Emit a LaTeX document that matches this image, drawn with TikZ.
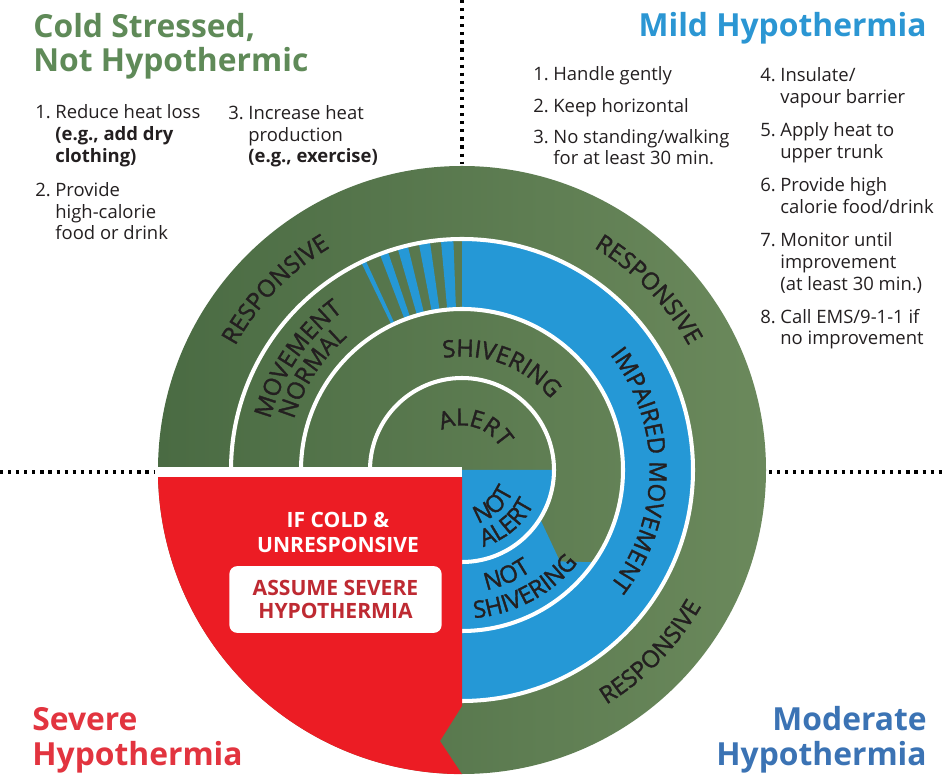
\documentclass[tikz,border=0pt]{standalone}
\usepackage{fontspec}
\setmainfont{Open Sans}
\newfontfamily\ringface[FakeBold=1.5]{Open Sans}
\usetikzlibrary{decorations.text}

\definecolor{leaf}{HTML}{6B895C}
\definecolor{leafdark}{HTML}{4A6B43}
\definecolor{ice}{HTML}{2598D6}
\definecolor{alarm}{HTML}{EC1C24}
\definecolor{ink}{HTML}{231F20}
\definecolor{ttlgreen}{HTML}{5F8A58}
\definecolor{ttlblue}{HTML}{2B96D3}
\definecolor{ttlred}{HTML}{E2343F}
\definecolor{ttlnavy}{HTML}{3B73B4}
\definecolor{boxred}{HTML}{BE2A32}

\newcommand\lnum[1]{\makebox[11.4pt][l]{#1.}}
\newcommand\lind{\hspace*{11.4pt}}
\newcommand\ringfont{\ringface\fontsize{13.5}{13.5}\selectfont}

\begin{document}
\begin{tikzpicture}[x=0.02cm,y=0.02cm,
  title/.style={font=\fontsize{18.1}{19.8}\selectfont\bfseries, inner sep=0pt},
  steps/.style={font=\fontsize{10.5}{12.5}\selectfont, text=ink, align=left, inner sep=0pt, anchor=base west},
  divider/.style={line width=1.8pt, dash pattern=on 1.8pt off 2.8pt},
  ring/.style={white, line width=2.3pt},
  curved/.style={decorate, decoration={text along path, text align=center, text={|\ringfont\color{ink}|#1}}}]
\useasboundingbox (-462,-306) rectangle (480,470);

% rings, all green first
\shade[left color=leafdark, middle color=leaf, right color=leaf] (0,0) circle[radius=304];

\fill[ice] (90:231) arc[start angle=90, end angle=-90, radius=231] -- (-90:161) arc[start angle=-90, end angle=90, radius=161] -- cycle;
\foreach \a/\w in {115.3/1.2, 109.8/2.1, 104.9/2.6, 99.4/2.8, 93.7/3.1}
  \fill[ice] ({\a+\w/2}:231) arc[start angle=\a+\w/2, end angle=\a-\w/2, radius=231] -- ({\a-\w/2}:161) arc[start angle=\a-\w/2, end angle=\a+\w/2, radius=161] -- cycle;

\fill[ice] (0,0) -- (0:92) arc[start angle=0, end angle=-32, radius=92] -- (-43:134) -- (-35:161) arc[start angle=-35, end angle=-90, radius=161] -- cycle;

\foreach \r in {92,161,231}
  \draw[ring] (-90:\r) arc[start angle=-90, end angle=180, radius=\r];

% red quarter with the notch at the bottom
\fill[alarm] (0,-7) -- (-304,-7) arc[start angle=181.3, end angle=270, radius=304] -- (-22,-271) -- (0,-236) -- cycle;
\fill[white] (-310,3) rectangle (0,-7);

\draw[divider] (0,470) -- (0,306);
\draw[divider] (-462,-2) -- (-308,-2);
\draw[divider] (307,-2) -- (480,-2);

\path[curved=RESPONSIVE] (176:258.5) arc[start angle=176, end angle=96, radius=258.5];
\path[curved=RESPONSIVE] (84:258.5) arc[start angle=84, end angle=4, radius=258.5];
\path[curved=RESPONSIVE] (-84:275.5) arc[start angle=-84, end angle=-4, radius=275.5];
\path[curved=MOVEMENT] (186:198.5) arc[start angle=186, end angle=106, radius=198.5];
\path[curved=NORMAL] (187:175.5) arc[start angle=187, end angle=107, radius=175.5];
\path[curved={IMPAIRED MOVEMENT}] (80:187.5) arc[start angle=80, end angle=-80, radius=187.5];
\path[curved=SHIVERING] (119:113.5) arc[start angle=119, end angle=19, radius=113.5];
\path[curved=ALERT] (163:44.5) arc[start angle=163, end angle=-17, radius=44.5];
\path[curved=NOT] (-138:55.5) arc[start angle=-138, end angle=42, radius=55.5];
\path[curved=ALERT] (-140:79.5) arc[start angle=-140, end angle=40, radius=79.5];
\path[curved=NOT] (-157:122.5) arc[start angle=-157, end angle=23, radius=122.5];
\path[curved=SHIVERING] (-152:148.5) arc[start angle=-152, end angle=28, radius=148.5];

\node[font=\fontsize{12}{14.7}\selectfont\bfseries, text=white, align=center, anchor=base, inner sep=0pt] (ifcold) at (-124,-83) {IF COLD \&\\UNRESPONSIVE};
\node[fill=white, rounded corners=4.5pt, minimum width=120.8pt, minimum height=38pt, inner sep=0pt,
  font=\fontsize{12}{13.6}\selectfont\bfseries, text=boxred, align=center] (assume) at (-126.5,-129.5) {ASSUME SEVERE\\HYPOTHERMIA};

% headings, placed by their last line
\node[title, text=ttlgreen, align=left, anchor=base west] (cold) at (-429,398) {Cold Stressed,\\Not Hypothermic};
\node[title, text=ttlblue, align=right, anchor=base east] (mild) at (465,433) {Mild Hypothermia};
\node[title, text=ttlred, align=left, anchor=base west] (severe) at (-430,-295) {Severe\\Hypothermia};
\node[title, text=ttlnavy, align=right, anchor=base east] (moderate) at (465,-295) {Moderate\\Hypothermia};

\node[steps] (coldsteps) at (-427,230) {\lnum{1}Reduce heat loss\\ \lind\textbf{(e.g., add dry}\\ \lind\textbf{clothing)}\\[6.8pt]
  \lnum{2}Provide\\ \lind high-calorie\\ \lind food or drink};
\node[steps] (heatsteps) at (-234,307) {\lnum{3}Increase heat\\ \lind production\\ \lind\textbf{(e.g., exercise)}};
\node[steps] (mildsteps) at (71,305) {\lnum{1}Handle gently\\[5.7pt] \lnum{2}Keep horizontal\\[5.1pt]
  \lnum{3}No standing/walking\\ \lind for at least 30 min.};
\node[steps] (mildcare) at (298,125) {\lnum{4}Insulate/\\ \lind vapour barrier\\[6.2pt] \lnum{5}Apply heat to\\ \lind upper trunk\\[6.2pt]
  \lnum{6}Provide high\\ \lind calorie food/drink\\[6.2pt] \lnum{7}Monitor until\\ \lind improvement\\ \lind (at least 30 min.)\\[6.2pt]
  \lnum{8}Call EMS/9-1-1 if\\ \lind no improvement};
\end{tikzpicture}
\end{document}
